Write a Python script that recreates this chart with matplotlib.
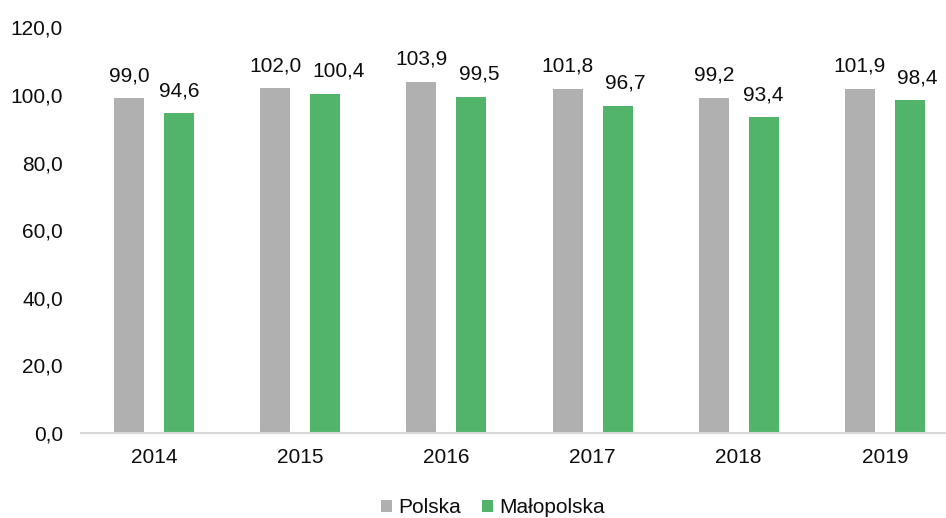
import matplotlib.pyplot as plt
import numpy as np

plt.rcParams['font.family'] = ['Liberation Sans', 'DejaVu Sans']

years = ['2014', '2015', '2016', '2017', '2018', '2019']
polska = [99.0, 102.0, 103.9, 101.8, 99.2, 101.9]
malopolska = [94.6, 100.4, 99.5, 96.7, 93.4, 98.4]

def fmt(v):
    return f"{v:.1f}".replace('.', ',')

fig = plt.figure(figsize=(9.46, 5.18), dpi=100)
# plot area runs a little past the right edge of the canvas
ax = fig.add_axes([81/946, 1-433/518, 877/946, (433-27.4)/518])

x = np.arange(len(years))
w = 0.205
off = 0.171
b1 = ax.bar(x - off, polska, w, color='#B0B0B0', label='Polska')
b2 = ax.bar(x + off, malopolska, w, color='#52B46A', label='Małopolska')

txt = '#0d0d0d'
labels = []
for bars, vals in ((b1, polska), (b2, malopolska)):
    row = []
    for r, v in zip(bars, vals):
        a = ax.annotate(fmt(v), (r.get_x() + r.get_width()/2, v), xytext=(0, 9.5),
                        textcoords='offset points', ha='center', va='bottom',
                        fontsize=15, color=txt)
        row.append(a)
    labels.append(row)

ax.set_xlim(-0.5, len(years) - 0.5)
ax.set_ylim(0, 120)
ax.set_yticks(np.arange(0, 121, 20))
ax.set_yticklabels([fmt(v) for v in np.arange(0, 121, 20)], fontsize=15, color=txt)
ax.set_xticks(x)
ax.set_xticklabels(years, fontsize=15, color=txt)
ax.tick_params(length=0, axis='both')
ax.tick_params(axis='x', pad=11)
ax.tick_params(axis='y', pad=13)

for s in ['top', 'right', 'left']:
    ax.spines[s].set_visible(False)
ax.spines['bottom'].set_color('#D9D9D9')
ax.spines['bottom'].set_linewidth(1.5)

# push a green label to the right when it collides with its gray neighbour
fig.canvas.draw()
rend = fig.canvas.get_renderer()
for left, right in zip(labels[0], labels[1]):
    bl = left.get_window_extent(rend)
    br = right.get_window_extent(rend)
    if bl.x1 + 4 > br.x0:
        shift = (bl.x1 - br.x0 + 11) * 72 / fig.dpi
        right.xyann = (shift, right.xyann[1])

fig.legend(loc='lower center', bbox_to_anchor=(0.521, -0.035), ncol=2, frameon=False,
           fontsize=15, handlelength=0.55, handleheight=0.55, handletextpad=0.3,
           columnspacing=1.0, labelcolor=txt)

fig.savefig('out.png', dpi=100)
